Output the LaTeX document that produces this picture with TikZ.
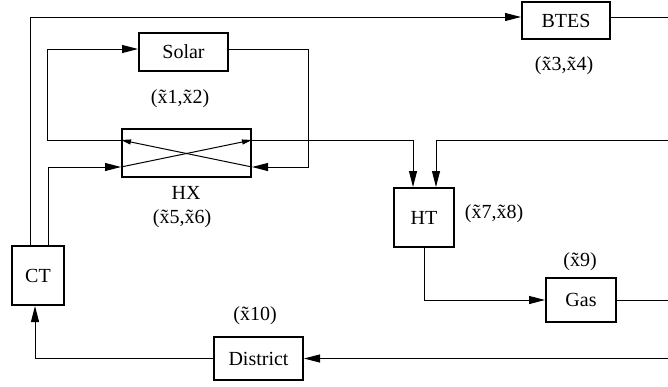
\documentclass[tikz,border=0pt]{standalone}
\usepackage{fontspec}
\setmainfont{Liberation Serif}
\usetikzlibrary{arrows.meta}
\tikzset{
  unit/.style={draw,line width=1pt,inner sep=0pt,font=\fontsize{10}{12}\selectfont},
  pipe/.style={line width=0.5pt},
  flow/.style={pipe,-{Triangle[length=8pt,width=4pt]}},
  cross/.style={pipe,-{Triangle[length=5pt,width=2.5pt]}},
  tag/.style={font=\fontsize{10}{12}\selectfont},
}
\begin{document}
\begin{tikzpicture}[x=0.5pt,y=-0.5pt]
  \useasboundingbox (0,0) rectangle (668,386);
  \node[unit,minimum width=44.5pt,minimum height=19pt] (solar) at (183.5,51.5) {Solar};
  \node[unit,minimum width=44pt,minimum height=18.5pt] (btes) at (566,20.5) {BTES};
  \node[unit,minimum width=64.5pt,minimum height=24pt] (hx) at (186.5,153) {};
  \node[unit,minimum width=30pt,minimum height=29.5pt] (ht) at (424,217.5) {HT};
  \node[unit,minimum width=26pt,minimum height=29.5pt] (ct) at (38,275.5) {CT};
  \node[unit,minimum width=35pt,minimum height=22pt] (gas) at (581,300) {Gas};
  \node[unit,minimum width=44.5pt,minimum height=21.5pt] (district) at (258.5,358.5) {District};
  \node[tag] (solarx) at (180,99) {(\~{x}1,\~{x}2)};
  \node[tag] (btesx) at (564,66) {(\~{x}3,\~{x}4)};
  \node[tag] (hxname) at (186,193) {HX};
  \node[tag] (hxx) at (182,219) {(\~{x}5,\~{x}6)};
  \node[tag] (htx) at (494,214) {(\~{x}7,\~{x}8)};
  \node[tag] (gasx) at (580,262) {(\~{x}9)};
  \node[tag] (districtx) at (255,316) {(\~{x}10)};
  \coordinate (topleft) at (30,17);
  \coordinate (btesout) at (668,17);
  \coordinate (sa) at (47,49);
  \coordinate (sb) at (308,49);
  \coordinate (hxtop) at (0,140);
  \coordinate (hxbot) at (0,167);
  \coordinate (htin1) at (413,0);
  \coordinate (htin2) at (436,0);
  \coordinate (rin) at (668,140);
  \coordinate (ctup) at (48,0);
  \coordinate (ctin) at (35,0);
  \coordinate (gasout) at (668,300);
  \coordinate (din) at (668,358.5);
  \draw[flow] (ct.north -| topleft) -- (topleft) -- (topleft -| btes.west);
  \draw[pipe] (btes.east |- btesout) -- (btesout);
  \draw[flow] (hx.west |- hxtop) -| (sa) -- (sa -| solar.west);
  \draw[flow] (sb -| solar.east) -- (sb) |- (hx.east |- hxbot);
  \draw[cross] (hx.east |- hxbot) -- (hx.west |- hxtop);
  \draw[cross] (hx.west |- hxbot) -- (hx.east |- hxtop);
  \draw[flow] (hx.east |- hxtop) -| (ht.north -| htin1);
  \draw[flow] (rin) -| (ht.north -| htin2);
  \draw[flow] (ct.north -| ctup) |- (hx.west |- hxbot);
  \draw[flow] (ht.south) |- (gas.west);
  \draw[pipe] (gas.east) -- (gasout);
  \draw[flow] (din) -- (district.east);
  \draw[flow] (district.west) -| (ct.south -| ctin);
\end{tikzpicture}
\end{document}
